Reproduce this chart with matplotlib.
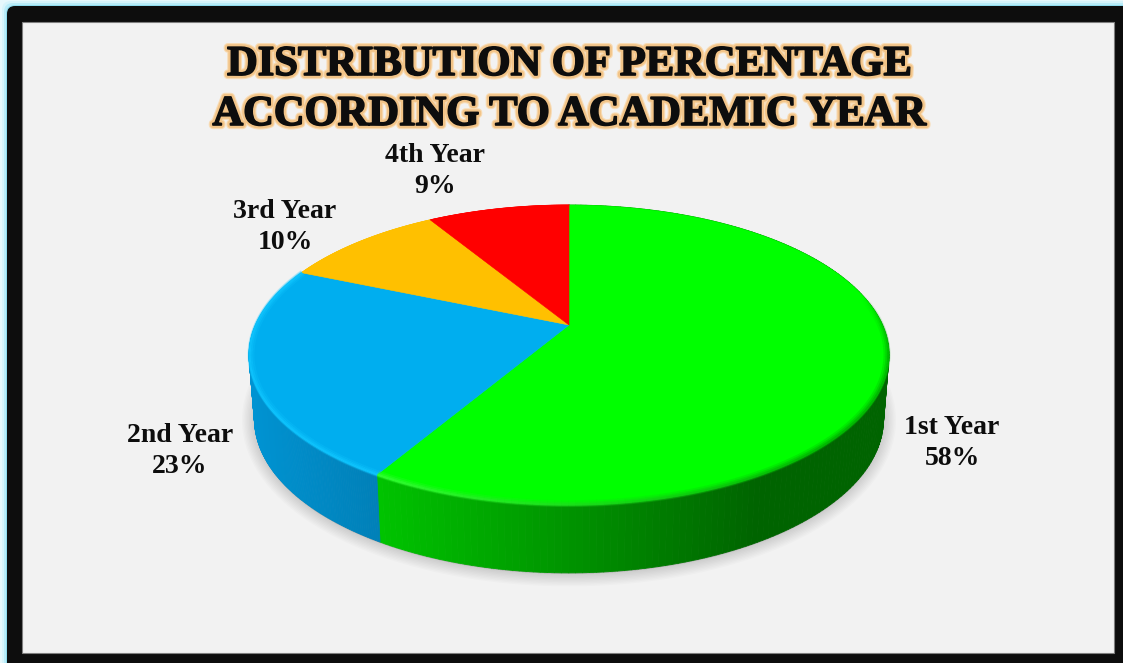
import numpy as np
import matplotlib
matplotlib.use("Agg")
import matplotlib.pyplot as plt
import matplotlib.patheffects as pe
from matplotlib.patches import FancyBboxPatch, Rectangle, Polygon
from matplotlib.collections import PolyCollection, LineCollection
from matplotlib.colors import to_rgb

plt.rcParams['font.family'] = ['Liberation Serif', 'DejaVu Serif']

# --- data ---
categories = ["1st Year", "2nd Year", "3rd Year", "4th Year"]
values = [58, 23, 10, 9]
title_lines = ["DISTRIBUTION OF PERCENTAGE", "ACCORDING TO ACADEMIC YEAR"]

# --- styles ---
top_colors = ["#00ff00", "#00aeef", "#ffc000", "#ff0000"]
wall_left = ["#00c400", "#0093d2", "#ffc000", "#ff0000"]
wall_right = ["#006400", "#0080b8", "#ffc000", "#ff0000"]
label_pos = [(952, 443), (180, 451), (285, 227), (435, 171)]


# project a point of the pie's unit circle on the page (perspective)
def project(theta, r=1.0):
    theta = theta + 0.03 * np.abs(np.sin(theta / 2)) ** 0.3
    u = r * np.sin(theta)
    v = -r * np.cos(theta)
    w = 1 - 0.2 * v
    return 569 + 313.5 * u / w, 325 + 144 * v / w


def lower(x, y):
    return 569 + (x - 569) * 0.983, y + 64 + (y - 350) * 0.025


def mix(c1, c2, t):
    c1, c2 = np.array(to_rgb(c1)), np.array(to_rgb(c2))
    return tuple(c1 + (c2 - c1) * t)


fig = plt.figure(figsize=(11.23, 6.63), dpi=100, facecolor="#e6f8fc")
ax = fig.add_axes([0, 0, 1, 1])
ax.set_xlim(0, 1123)
ax.set_ylim(663, 0)
ax.axis("off")

# frame with a soft glow
for grow, col in [(5, "#d6f4fb"), (3, "#b9ecf8"), (1, "#8fdcef")]:
    ax.add_patch(FancyBboxPatch((7 - grow, 6 - grow), 1140, 680, boxstyle="round,pad=0,rounding_size=9",
                                fc=col, ec="none"))
ax.add_patch(FancyBboxPatch((7, 6), 1140, 680, boxstyle="round,pad=0,rounding_size=8", fc="#0d0d0d", ec="none"))
ax.add_patch(Rectangle((22, 22), 1092, 631, fc="#f2f2f2", ec="#7f7f7f", lw=0.8))

edges = np.cumsum([0] + values) / sum(values) * 2 * np.pi
all_t = np.linspace(0, 2 * np.pi, 720)

# shadow under the pie
sx, sy = lower(*project(all_t))
outline = np.column_stack([sx, sy + 1])
for lw in range(18, 0, -2):
    ax.add_patch(Polygon(outline, closed=True, fc="black", ec="black", lw=lw, alpha=0.016, joinstyle="round"))

# side wall, left to right gradient
for i in [3, 2, 0, 1]:
    t = np.linspace(edges[i], edges[i + 1], 200)
    x, y = project(t)
    bx, by = lower(x, y)
    quads, cols = [], []
    x0, x1 = 378, 760
    if i == 1:
        x0, x1 = 250, 378
    for j in range(len(t) - 1):
        quads.append([(x[j], y[j]), (x[j + 1], y[j + 1]), (bx[j + 1], by[j + 1]), (bx[j], by[j])])
        f = np.clip((x[j] - x0) / (x1 - x0), 0, 1)
        cols.append(mix(wall_left[i], wall_right[i], f))
    ax.add_collection(PolyCollection(quads, facecolors=cols, edgecolors=cols, linewidths=0.6))

# top face
for i in range(len(values)):
    t = np.linspace(edges[i], edges[i + 1], 200)
    x, y = project(t)
    pts = [(569, 325)] + list(zip(x, y))
    ax.add_patch(Polygon(pts, closed=True, fc=top_colors[i], ec=top_colors[i], lw=0.4, joinstyle="miter"))

# soft bevel along the rim of the top face
for lw, a in [(5.0, 0.25), (3.2, 0.4), (1.6, 0.7)]:
    for i in range(2):
        t = np.linspace(edges[i], edges[i + 1], 200)
        x, y = project(t, 1 - 0.0012 * lw)
        segs = np.stack([np.column_stack([x[:-1], y[:-1]]), np.column_stack([x[1:], y[1:]])], axis=1)
        cols = []
        for j in range(len(t) - 1):
            front = np.clip(-np.cos(t[j]) * 2.5 + 0.6, 0, 1)
            if i == 0:
                f = np.clip((x[j] - 380) / 450, 0, 1)
                c = mix("#35ff35", "#00b000", f)
                cols.append(c + (a * front,))
            else:
                cols.append(to_rgb("#10c6ff") + (a,))
        ax.add_collection(LineCollection(segs, colors=cols, linewidths=lw, capstyle="butt"))

# labels
for cat, val, (lx, ly) in zip(categories, values, label_pos):
    ax.text(lx, ly, f"{cat}\n{val}%", ha="center", va="center", fontsize=20, fontweight="bold",
            color="#0d0d0d", linespacing=1.3)

# title
title_fx = [pe.withStroke(linewidth=6.0, foreground="#f8dcb6"),
            pe.withStroke(linewidth=4.4, foreground="#f2c488"),
            pe.withStroke(linewidth=1.2, foreground="#0d0d0d")]
for line, ty in zip(title_lines, [65, 115]):
    ax.text(569, ty, line, ha="center", va="center", fontsize=30.6, fontweight="bold",
            color="#0d0d0d", path_effects=title_fx)

fig.savefig("out.png", dpi=100, facecolor=fig.get_facecolor())
